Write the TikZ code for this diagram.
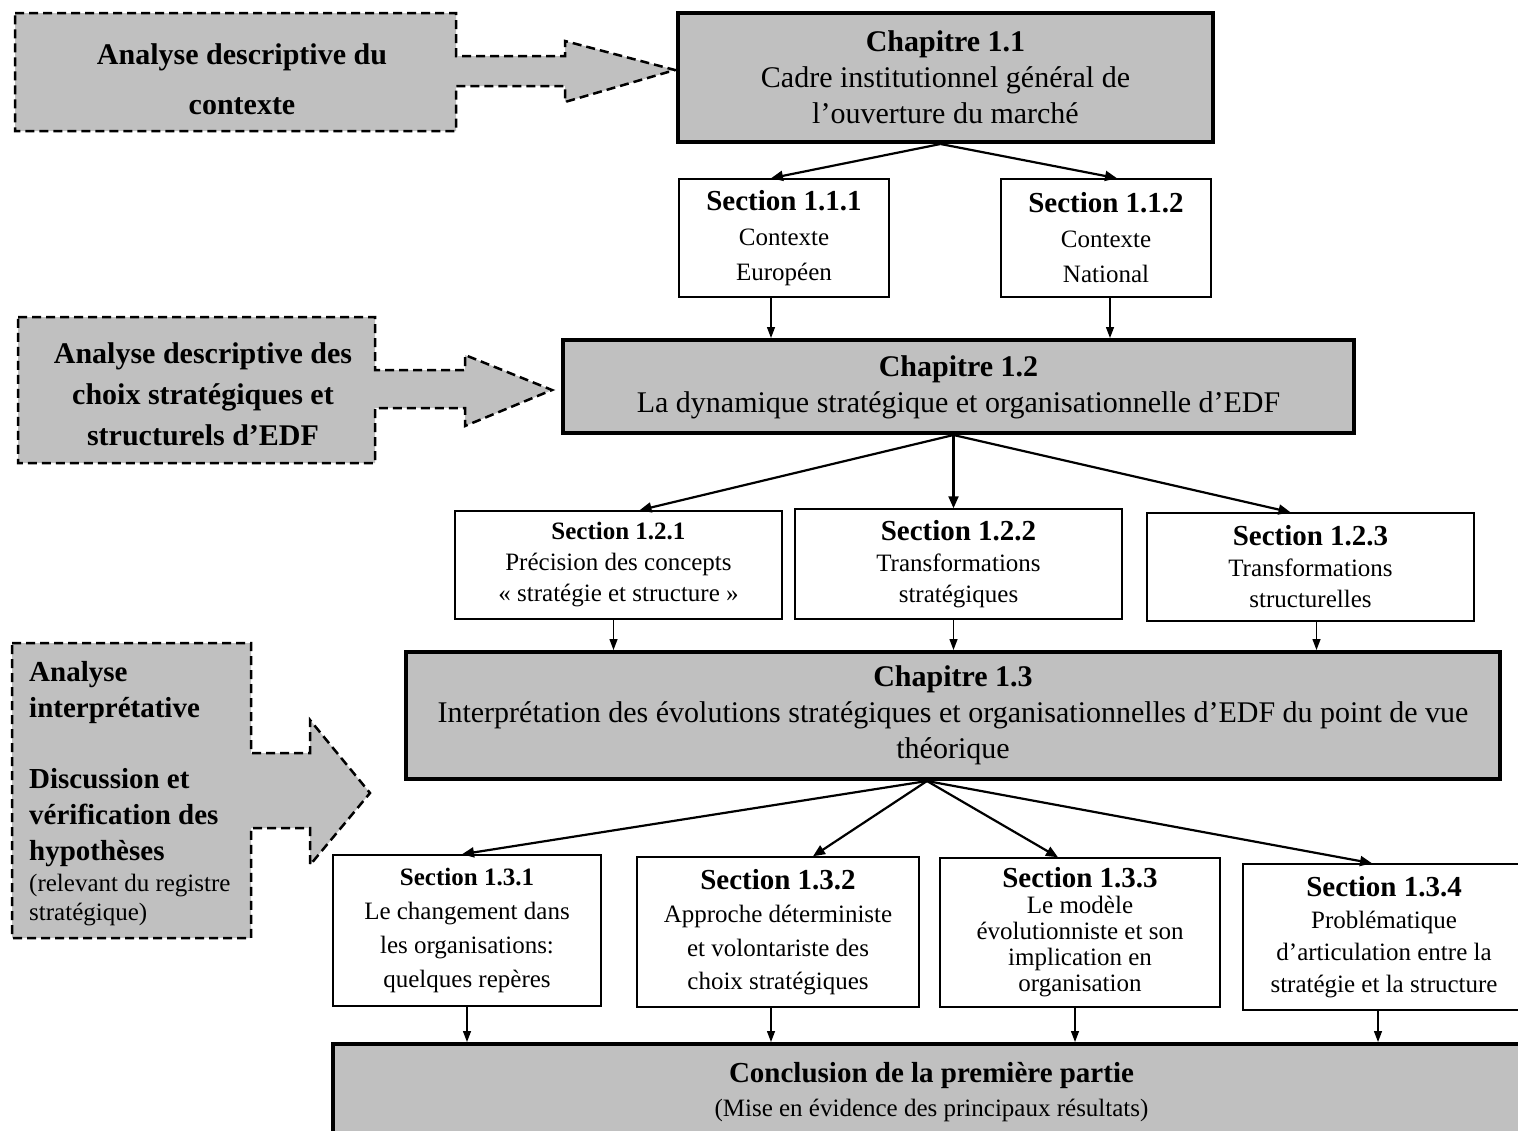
\documentclass[tikz,border=0pt]{standalone}
\usepackage{fontspec}
\setmainfont{Liberation Serif}
\usetikzlibrary{arrows.meta,calc}
\definecolor{boxgray}{HTML}{C0C0C0}
\begin{document}
\begin{tikzpicture}[x=1pt,y=-1pt,
  chap/.style={draw, line width=4pt, fill=boxgray, inner sep=0pt, align=center,
    font=\fontsize{30}{36}\selectfont},
  sect/.style={draw, line width=1.5pt, fill=white, inner sep=0pt, align=center},
  darrow/.style={draw, fill=boxgray, line width=2.5pt, dash pattern=on 9pt off 5pt},
  dtext/.style={inner sep=0pt, font=\bfseries\fontsize{29}{36}\selectfont},
  conn/.style={line width=2.2pt, -{Triangle[length=12pt,width=10pt]}},
  vconn/.style={line width=1.3pt, -{Triangle[length=11pt,width=8pt]}}
]
\useasboundingbox (0,0) rectangle (1518,1130);
\clip (0,0) rectangle (1518,1130);
\fill[white] (0,0) rectangle (1518,1130);

% dashed block arrows
\draw[darrow] (15,13) -- (456,13) -- (456,56) -- (565,56) -- (565,41) -- (675,70)
  -- (565,102) -- (565,86) -- (456,86) -- (456,131) -- (15,131) -- cycle;
\node[dtext, align=center, font=\bfseries\fontsize{30}{50}\selectfont] (d1) at (242,79)
  {Analyse descriptive du\\contexte};

\draw[darrow] (18,317) -- (375,317) -- (375,370) -- (465,370) -- (465,355) -- (552,390)
  -- (465,426) -- (465,408) -- (375,408) -- (375,463) -- (18,463) -- cycle;
\node[dtext, align=center, font=\bfseries\fontsize{30}{41}\selectfont] (d2) at (203,394)
  {Analyse descriptive des\\choix stratégiques et\\structurels d’EDF};

\draw[darrow] (12,643) -- (251,643) -- (251,753) -- (310,753) -- (310,720) -- (370,793)
  -- (310,865) -- (310,828) -- (251,828) -- (251,938) -- (12,938) -- cycle;
\node[dtext, align=left, anchor=north west] (d3) at (29,661)
  {Analyse\\interprétative\\[35pt]Discussion et\\vérification des\\hypothèses\\[-5pt]%
   {\mdseries\fontsize{25}{29}\selectfont (relevant du registre}\\[-7pt]%
   {\mdseries\fontsize{25}{29}\selectfont stratégique)}};

% chapters
\node[chap, minimum width=535pt, minimum height=129pt] (c11) at (945.5,77.5)
  {\textbf{Chapitre 1.1}\\Cadre institutionnel général de\\l’ouverture du marché};
\node[chap, minimum width=791pt, minimum height=93pt, text depth=4pt] (c12) at (958.5,386.5)
  {\textbf{Chapitre 1.2}\\La dynamique stratégique et organisationnelle d’EDF};
\node[chap, minimum width=1094pt, minimum height=127pt] (c13) at (953,715.5)
  {\textbf{Chapitre 1.3}\\Interprétation des évolutions stratégiques et organisationnelles d’EDF du point de vue\\théorique};
\node[chap, minimum width=1197pt, minimum height=96pt, font=\fontsize{25}{34}\selectfont] (conc) at (931.5,1092)
  {{\bfseries\fontsize{29}{34}\selectfont Conclusion de la première partie}\\(Mise en évidence des principaux résultats)};

% sections 1.1.x
\node[sect, minimum width=210pt, minimum height=118pt, font=\fontsize{25}{35}\selectfont] (s111) at (784,238)
  {{\bfseries\fontsize{29}{35}\selectfont Section 1.1.1}\\Contexte\\Européen};
\node[sect, minimum width=210pt, minimum height=118pt, font=\fontsize{25}{35}\selectfont] (s112) at (1106,238)
  {{\bfseries\fontsize{29}{35}\selectfont Section 1.1.2}\\Contexte\\National};

% sections 1.2.x
\node[sect, minimum width=327pt, minimum height=108pt, font=\fontsize{25}{31}\selectfont] (s121) at (618.5,565)
  {{\bfseries\fontsize{25}{31}\selectfont Section 1.2.1}\\Précision des concepts\\« stratégie et structure »};
\node[sect, minimum width=327pt, minimum height=110pt, font=\fontsize{25}{31}\selectfont] (s122) at (958.5,564)
  {{\bfseries\fontsize{29}{31}\selectfont Section 1.2.2}\\Transformations\\stratégiques};
\node[sect, minimum width=327pt, minimum height=108pt, font=\fontsize{25}{31}\selectfont] (s123) at (1310.5,567)
  {{\bfseries\fontsize{29}{31}\selectfont Section 1.2.3}\\Transformations\\structurelles};

% sections 1.3.x
\node[sect, minimum width=268pt, minimum height=151pt, font=\fontsize{25}{34}\selectfont] (s131) at (467,930.5)
  {{\bfseries\fontsize{25}{34}\selectfont Section 1.3.1}\\Le changement dans\\les organisations:\\quelques repères};
\node[sect, minimum width=282pt, minimum height=150pt, font=\fontsize{25}{33.5}\selectfont] (s132) at (778,932)
  {{\bfseries\fontsize{29}{33.5}\selectfont Section 1.3.2}\\Approche déterministe\\et volontariste des\\choix stratégiques};
\node[sect, minimum width=280pt, minimum height=149pt, font=\fontsize{25}{26}\selectfont] (s133) at (1080,932.5)
  {{\bfseries\fontsize{29}{26}\selectfont Section 1.3.3}\\Le modèle\\évolutionniste et son\\implication en\\organisation};
\node[sect, minimum width=282pt, minimum height=146pt, font=\fontsize{25}{32}\selectfont] (s134) at (1384,937)
  {{\bfseries\fontsize{29}{32}\selectfont Section 1.3.4}\\Problématique\\d’articulation entre la\\stratégie et la structure};

% connector start points
\coordinate (o11) at ($(c11.south)+(-5,0)$);
\coordinate (o12) at ($(c12.south)+(-5,0)$);
\coordinate (o13) at ($(c13.south)+(-26,0)$);
\coordinate (v111) at ($(s111.south)+(-13,0)$);
\coordinate (v112) at ($(s112.south)+(4,0)$);
\coordinate (v121) at ($(s121.south)+(-5,0)$);
\coordinate (v122) at ($(s122.south)+(-5,0)$);
\coordinate (v123) at ($(s123.south)+(6,0)$);
\coordinate (v131) at (s131.south);
\coordinate (v132) at ($(s132.south)+(-7,0)$);
\coordinate (v133) at ($(s133.south)+(-5,0)$);
\coordinate (v134) at ($(s134.south)+(-6,0)$);

% connectors chapter 1.1
\draw[conn] (o11) -- ($(s111.north)+(-13,0)$);
\draw[conn] (o11) -- ($(s112.north)+(11,0)$);
\draw[vconn] (v111) -- (v111 |- c12.north);
\draw[vconn] (v112) -- (v112 |- c12.north);

% connectors chapter 1.2
\draw[conn] (o12) -- ($(s121.north)+(21,0)$);
\draw[conn] (o12) -- ($(s122.north)+(-5,0)$);
\draw[conn] (o12) -- ($(s123.north)+(-20,0)$);
\draw[vconn] (v121) -- (v121 |- c13.north);
\draw[vconn] (v122) -- (v122 |- c13.north);
\draw[vconn] (v123) -- (v123 |- c13.north);

% connectors chapter 1.3
\draw[conn] (o13) -- ($(s131.north)+(-5,0)$);
\draw[conn] (o13) -- ($(s132.north)+(35,0)$);
\draw[conn] (o13) -- ($(s133.north)+(-22,0)$);
\draw[conn] (o13) -- ($(s134.north)+(-12,0)$);
\draw[vconn] (v131) -- (v131 |- conc.north);
\draw[vconn] (v132) -- (v132 |- conc.north);
\draw[vconn] (v133) -- (v133 |- conc.north);
\draw[vconn] (v134) -- (v134 |- conc.north);
\end{tikzpicture}
\end{document}
